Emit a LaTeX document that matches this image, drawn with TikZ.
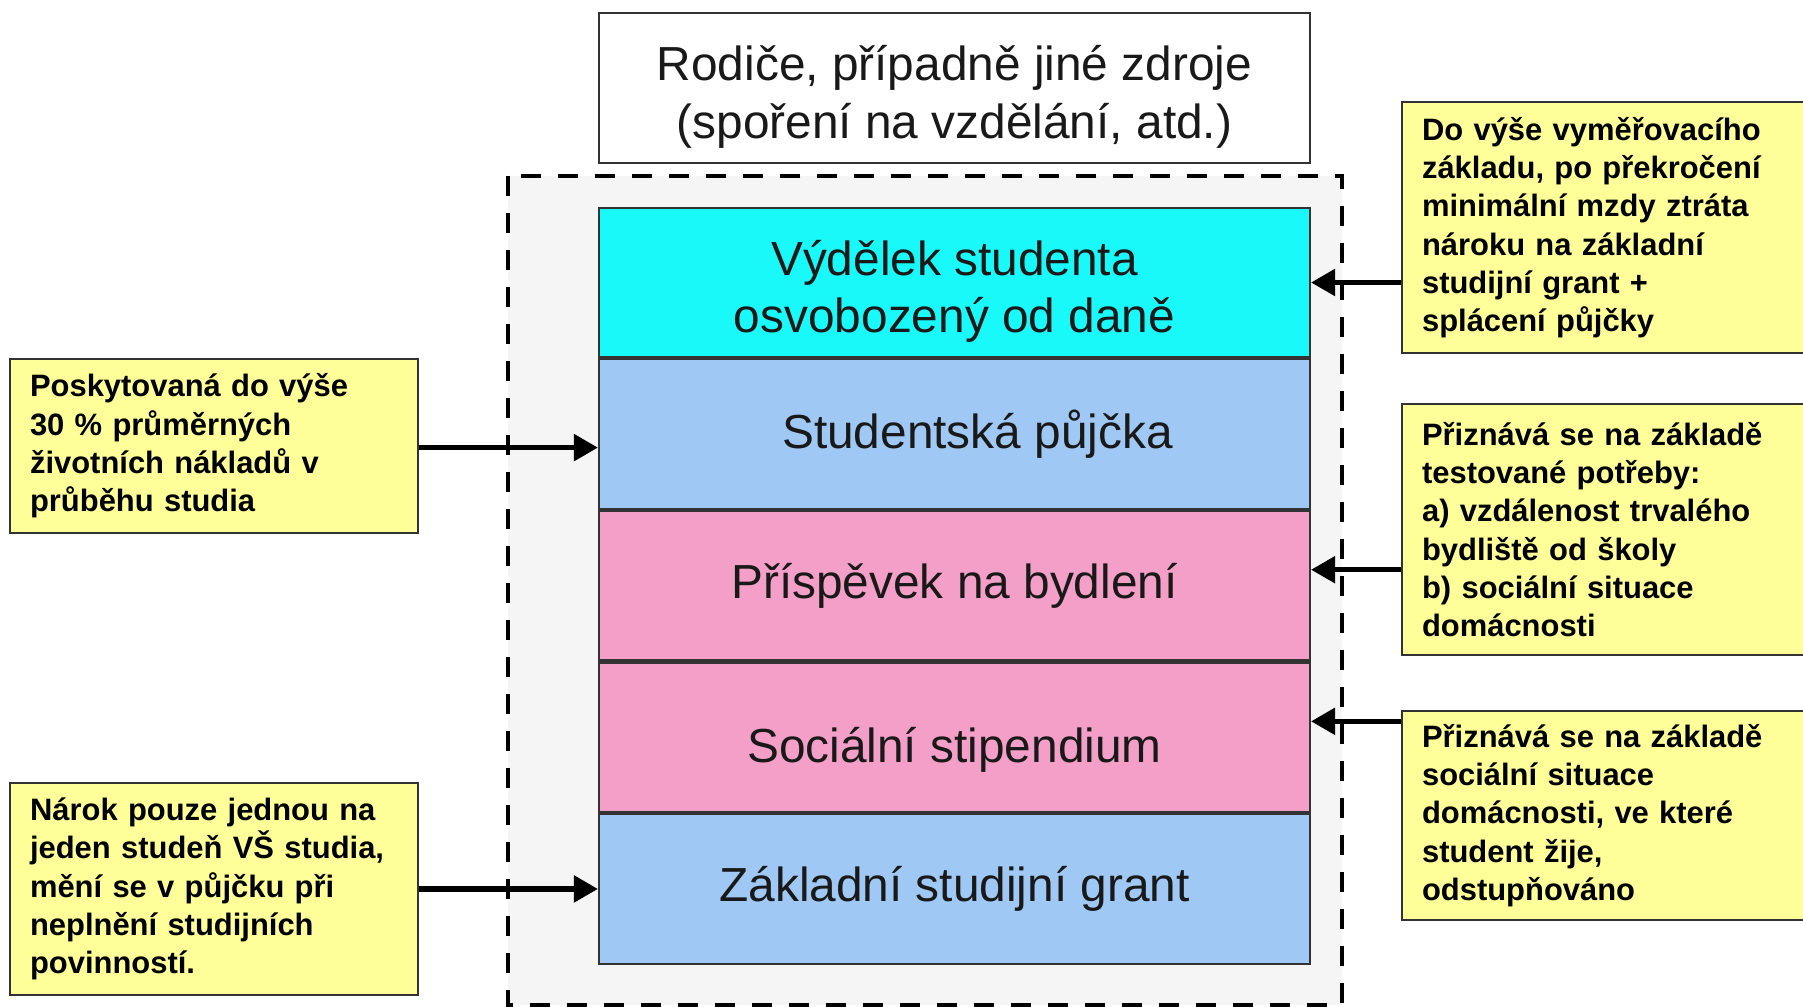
\documentclass[tikz,border=0pt]{standalone}
\usepackage{fontspec}
\setmainfont{Liberation Sans}
\usetikzlibrary{arrows.meta, positioning, backgrounds}

\definecolor{earncyan}{HTML}{19F9F9}
\definecolor{loanblue}{HTML}{9FC9F4}
\definecolor{housepink}{HTML}{F49FC8}
\definecolor{noteyellow}{HTML}{FFFF99}
\definecolor{panelgray}{HTML}{F5F5F5}

\begin{document}
\begin{tikzpicture}[
  layer/.style = {draw=black!80, line width=0.6pt, minimum height=1.495cm, minimum width=7.11cm,
                  inner sep=0pt, align=center, text=black!90,
                  font=\fontsize{13.6}{16.4}\selectfont},
  note/.style  = {draw=black!80, line width=0.6pt, fill=noteyellow, anchor=north west,
                  text width=3.68cm, inner xsep=0.2cm, inner ysep=0pt, align=left,
                  font=\fontsize{8.8}{10.9}\selectfont\bfseries},
  arrow/.style = {line width=1.5pt, -{Triangle[width=2.6mm, length=2.4mm]}},
  node distance=0pt
]
  \useasboundingbox (0,0) rectangle (18.03,-10.07);

  % Support stack
  \node[layer, fill=earncyan] (vydelek) at (9.545,-2.825) {\rule{0pt}{15pt}V\'yd\v elek studenta\\ osvobozen\'y od dan\v e};
  \node[layer, fill=loanblue, below=of vydelek] (pujcka) {\hspace*{0.46cm}Studentsk\'a p\r uj\v cka};
  \node[layer, fill=housepink, below=of pujcka] (bydleni) {P\v r\'isp\v evek na bydlen\'i};
  \node[layer, fill=housepink, below=of bydleni] (stipendium) {\rule{0pt}{17pt}Soci\'aln\'i stipendium};
  \node[layer, fill=loanblue, below=of stipendium] (grant) {Z\'akladn\'i studijn\'i grant};

  % Parents (above the stack)
  \node[layer, fill=white, above=0.43cm of vydelek] (rodice) {\rule{0pt}{15pt}Rodi\v ce, p\v r\'ipadn\v e jin\'e zdroje\\ (spo\v ren\'i na vzd\v el\'an\'i, atd.)};

  % Dashed panel behind the stack
  \begin{scope}[on background layer]
    \draw[fill=panelgray, line width=1.2pt, dash pattern=on 0.2cm off 0.17cm]
      ([xshift=-0.9cm, yshift=0.31cm]vydelek.north west) rectangle ([xshift=0.31cm, yshift=-0.40cm]grant.south east);
  \end{scope}

  % Notes on the right
  \node[note, minimum height=2.51cm] (vymer) at (14.01,-1.01) {Do v\'y\v se vym\v e\v rovac\'iho\\ z\'akladu, po p\v rekro\v cen\'i\\ minim\'aln\'i mzdy ztr\'ata\\ n\'aroku na z\'akladn\'i\\ studijn\'i grant +\\ spl\'acen\'i p\r uj\v cky};
  \node[note, minimum height=2.51cm] (potreba) at (14.01,-4.03) {P\v rizn\'av\'a se na z\'aklad\v e\\ testovan\'e pot\v reby:\\ a) vzd\'alenost trval\'eho\\ bydli\v st\v e od \v skoly\\ b) soci\'aln\'i situace\\ dom\'acnosti};
  \node[note, minimum height=2.09cm] (situace) at (14.01,-7.10) {P\v rizn\'av\'a se na z\'aklad\v e\\ soci\'aln\'i situace\\ dom\'acnosti, ve kter\'e\\ student \v zije,\\ odstup\v nov\'ano};

  % Notes on the left
  \node[note, minimum height=1.74cm] (naklady) at (0.09,-3.58) {Poskytovan\'a do v\'y\v se\\ 30~\% pr\r um\v ern\'ych\\ \v zivotn\'ich n\'aklad\r u v\\ pr\r ub\v ehu studia};
  \node[note, minimum height=2.12cm] (narok) at (0.09,-7.82) {N\'arok pouze jednou na\\ jeden stude\v n V\v S studia,\\ m\v en\'i se v p\r uj\v cku p\v ri\\ nepln\v en\'i studijn\'ich\\ povinnost\'i.};

  % Connections
  \draw[arrow] (vydelek.east -| vymer.west) -- (vydelek.east);
  \draw[arrow] ([yshift=1.6mm]bydleni.east -| potreba.west) -- ([yshift=1.6mm]bydleni.east);
  \draw[arrow] ([yshift=1.6mm]stipendium.east -| situace.west) -- ([yshift=1.6mm]stipendium.east);
  \draw[arrow] ([yshift=-1.35mm]pujcka.west -| naklady.east) -- ([yshift=-1.35mm]pujcka.west);
  \draw[arrow] (grant.west -| narok.east) -- (grant.west);

\end{tikzpicture}
\end{document}
